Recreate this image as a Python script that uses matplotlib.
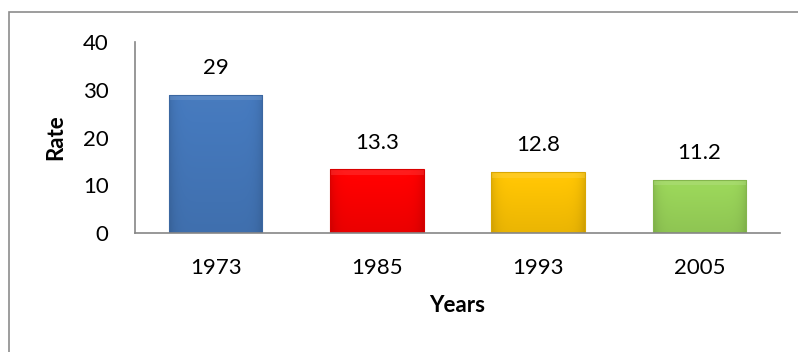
import numpy as np
import matplotlib.pyplot as plt
from matplotlib.colors import to_rgb
from matplotlib.patches import Rectangle

years = ['1973', '1985', '1993', '2005']
rates = [29, 13.3, 12.8, 11.2]
labels = ['29', '13.3', '12.8', '11.2']
colors = ['#4579bd', '#ff0000', '#ffc504', '#9bd65a']

plt.rcParams['font.family'] = ['Lato', 'DejaVu Sans']

fig = plt.figure(figsize=(7.98, 3.52), dpi=100)
ax = fig.add_axes([135 / 798, 1 - 233 / 352, 645 / 798, 191 / 352])

# outer chart border (runs off right/bottom like the screenshot)
fig.patches.append(Rectangle((9 / 798, -0.1), 1.2, 1 - 12 / 352 + 0.1,
                             transform=fig.transFigure, fill=False,
                             edgecolor='#8c8c8c', linewidth=1.2))


def shade(c, f):
    r = np.array(to_rgb(c))
    if f >= 0:
        return r + (1 - r) * f
    return r * (1 + f)


x = np.arange(len(years))
bars = ax.bar(x, rates, width=0.58, color=colors, edgecolor='none', zorder=2)

# gradient / bevel look per bar
for b, c in zip(bars, colors):
    x0, y0 = b.get_x(), b.get_y()
    w, h = b.get_width(), b.get_height()
    ny, nx = 80, 80
    yy = np.linspace(1, 0, ny)[:, None]
    xx = np.linspace(0, 1, nx)[None, :]
    base = np.array(to_rgb(c))
    img = np.ones((ny, nx, 3)) * base
    vert = 0.10 * yy - 0.08
    edge = -0.12 * (np.abs(xx - 0.5) * 2) ** 8
    f = vert + edge
    img = np.where(f[..., None] >= 0, img + (1 - img) * f[..., None],
                   img * (1 + f[..., None]))
    im = ax.imshow(np.clip(img, 0, 1), extent=(x0, x0 + w, y0, y0 + h),
                   aspect='auto', zorder=3, interpolation='bilinear')
    im.set_clip_path(b)
    # soft light bevel along the top edge
    ax.fill_between([x0, x0 + w], y0 + h - 1.2, y0 + h,
                    color=shade(c, 0.3), alpha=0.35, lw=0, zorder=4)
    ax.add_patch(Rectangle((x0, y0), w, h, fill=False,
                           edgecolor=shade(c, -0.15), lw=0.8, zorder=5))

for xi, r, t in zip(x, rates, labels):
    ax.text(xi, r + 5.6, t, ha='center', va='center', fontsize=16, color='black')

ax.set_xlim(-0.5, len(years) - 0.5)
ax.set_ylim(0, 40)
ax.set_yticks([0, 10, 20, 30, 40])
ax.set_xticks(x)
ax.set_xticklabels(years)
ax.tick_params(axis='both', length=0, labelsize=16)
ax.tick_params(axis='x', pad=18)
ax.tick_params(axis='y', pad=19)
ax.set_ylabel('Rate', fontsize=16, fontweight='bold', labelpad=12)
ax.set_xlabel('Years', fontsize=16, fontweight='bold', labelpad=12)

for s in ['top', 'right']:
    ax.spines[s].set_visible(False)
for s in ['left', 'bottom']:
    ax.spines[s].set_color('#868686')
    ax.spines[s].set_linewidth(1.2)
    ax.spines[s].set_zorder(6)

fig.savefig('out.png', dpi=100)
